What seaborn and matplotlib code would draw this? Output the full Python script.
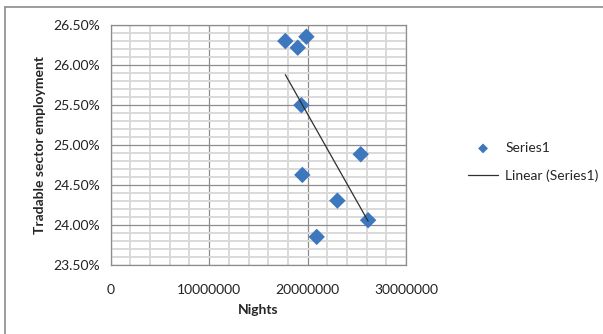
import numpy as np
import pandas as pd
import matplotlib
matplotlib.use("Agg")
import matplotlib.pyplot as plt
from matplotlib.lines import Line2D
from matplotlib.ticker import MultipleLocator, FuncFormatter
import seaborn as sns

# data
nights = [17.74e6, 19.88e6, 19.00e6, 19.37e6, 25.40e6, 19.47e6, 23.03e6, 26.15e6, 20.93e6]
tradable = [0.2630, 0.26354, 0.26217, 0.2550, 0.24888, 0.2463, 0.24309, 0.24065, 0.23857]

df = pd.DataFrame({"Nights": nights, "Tradable": tradable})

sns.set_style("white")
plt.rcParams["font.family"] = ["Lato", "DejaVu Sans"]

fig = plt.figure(figsize=(6.03, 3.34), dpi=100)
ax = fig.add_axes([0.1836, 0.2051, 0.4897, 0.72])

major_c = "#8c8c8c"
minor_c = "#d9d9d9"

# gridlines
ax.xaxis.set_major_locator(MultipleLocator(10000000))
ax.xaxis.set_minor_locator(MultipleLocator(2000000))
ax.yaxis.set_major_locator(MultipleLocator(0.005))
ax.yaxis.set_minor_locator(MultipleLocator(0.001))
ax.grid(which="minor", color=minor_c, linewidth=1.4, zorder=0)
ax.grid(which="major", color=major_c, linewidth=0.9, zorder=1)
ax.set_axisbelow(True)

sns.scatterplot(data=df, x="Nights", y="Tradable", marker="D", s=70,
                color="#3d77bd", edgecolor="none", ax=ax, zorder=3, label="Series1")

# linear trendline
slope, icpt = np.polyfit(df["Nights"], df["Tradable"], 1)
xs = np.array([df["Nights"].min(), df["Nights"].max()])
ax.plot(xs, slope * xs + icpt, color="#303030", linewidth=0.9, zorder=4,
        label="Linear (Series1)")

ax.set_xlim(0, 30000000)
ax.set_ylim(0.235, 0.265)
ax.yaxis.set_major_formatter(FuncFormatter(lambda v, p: f"{v*100:.2f}%"))
ax.xaxis.set_major_formatter(FuncFormatter(lambda v, p: f"{int(round(v))}"))

for s in ax.spines.values():
    s.set_color(major_c)
    s.set_linewidth(0.9)

ax.tick_params(which="major", direction="out", length=5, width=0.9, color=major_c,
               labelsize=10, labelcolor="#222222", pad=3)
ax.tick_params(which="minor", length=0)
ax.tick_params(axis="x", pad=8)

ax.set_xlabel("Nights", fontsize=10, fontweight="bold", labelpad=6)
ax.set_ylabel("Tradable sector employment", fontsize=10, fontweight="bold", labelpad=5)

ax.legend(loc="center left", bbox_to_anchor=(0.755, 0.515), bbox_transform=fig.transFigure,
          frameon=False, fontsize=10, handlelength=2.2, handletextpad=0.5,
          labelspacing=1.1, markerscale=0.6)

# chart frame (only the top and left edges show in the reference)
fig.add_artist(Line2D([0.0088, 1.0], [0.978, 0.978], transform=fig.transFigure,
                      color="#8c8c8c", linewidth=1.2))
fig.add_artist(Line2D([0.0088, 0.0088], [0.0, 0.978], transform=fig.transFigure,
                      color="#8c8c8c", linewidth=1.2))

fig.savefig("out.png", dpi=100)
